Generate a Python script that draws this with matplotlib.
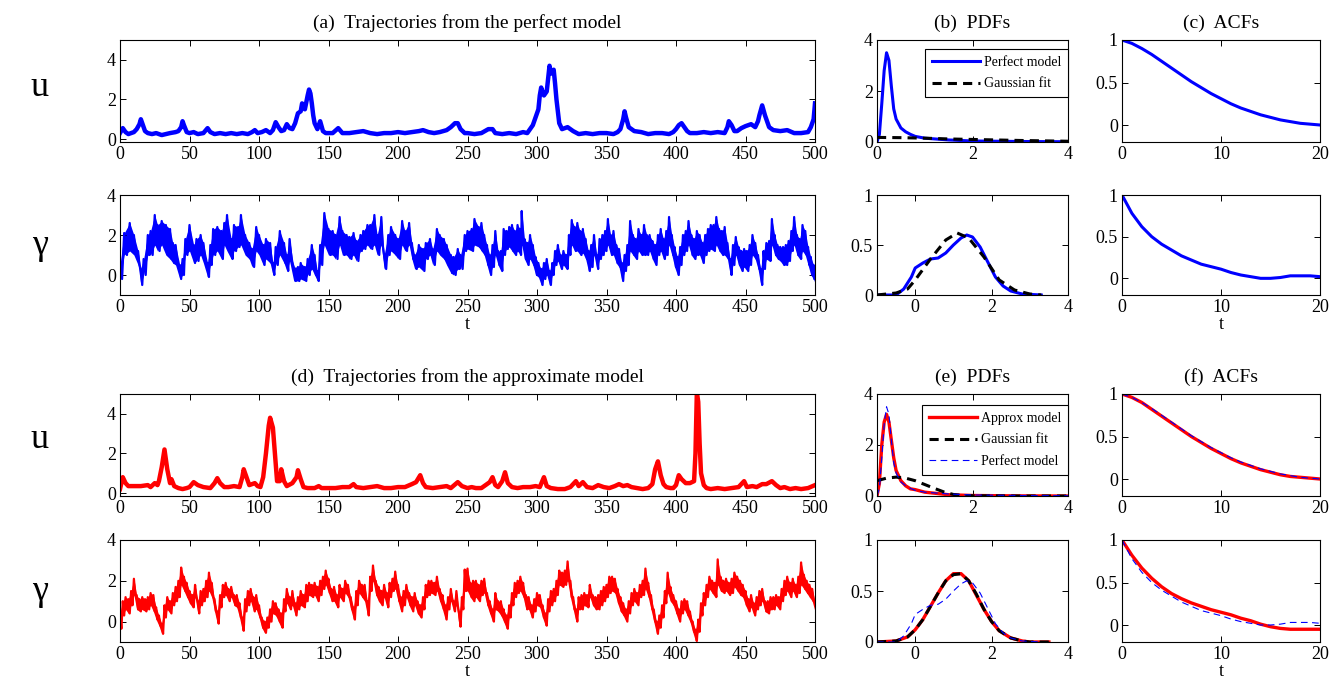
import matplotlib
matplotlib.use('Agg')
import matplotlib.pyplot as plt
import numpy as np

plt.rcParams['font.family'] = ['Liberation Serif', 'DejaVu Serif']

# ---------------- data ----------------
u_perfect = [(0,0.3),(2,0.55),(4,0.35),(6,0.25),(8,0.3),(10,0.35),(12,0.5),(14,0.75),(15,1.0),(16,0.8),(18,0.4),(20,0.3),
 (23,0.25),(26,0.3),(30,0.2),(33,0.25),(36,0.3),(40,0.35),(42,0.4),(44,0.6),(45,0.9),(46,0.7),(48,0.35),(50,0.3),(53,0.35),
 (56,0.25),(60,0.3),(63,0.55),(65,0.35),(68,0.25),(72,0.3),(76,0.25),(80,0.3),(84,0.25),(88,0.3),(92,0.25),(95,0.35),(97,0.45),
 (99,0.3),(102,0.35),(105,0.45),(108,0.3),(110,0.45),(112,0.85),(114,0.6),(116,0.4),(118,0.45),(120,0.75),(122,0.55),(124,0.5),
 (126,0.8),(128,1.3),(130,1.4),(131,1.8),(133,1.5),(135,2.2),(136,2.5),(137,2.3),(138,1.8),(139,1.2),(140,0.8),(142,0.5),(144,0.9),
 (146,0.4),(148,0.3),(150,0.3),(153,0.3),(157,0.55),(160,0.3),(165,0.3),(170,0.35),(175,0.4),(180,0.3),(185,0.25),(190,0.3),
 (195,0.3),(200,0.35),(205,0.3),(210,0.35),(215,0.4),(218,0.45),(222,0.35),(226,0.3),(230,0.35),(235,0.45),(238,0.6),(241,0.8),
 (243,0.8),(245,0.5),(248,0.3),(250,0.3),(255,0.25),(260,0.3),(265,0.5),(268,0.5),(270,0.3),(275,0.25),(280,0.3),(285,0.25),
 (290,0.35),(293,0.3),(295,0.5),(297,0.7),(298,0.9),(300,1.3),(301,1.5),(302,2.2),(303,2.6),(305,2.2),(307,2.4),(309,3.7),
 (310,3.3),(311,3.4),(312,3.5),(313,2.8),(314,2.0),(316,0.8),(318,0.5),(320,0.55),(322,0.6),(326,0.4),(330,0.25),(335,0.3),
 (340,0.25),(345,0.3),(350,0.3),(355,0.25),(358,0.35),(360,0.5),(362,1.0),(363,1.4),(364,1.1),(366,0.6),(370,0.4),(375,0.35),
 (380,0.25),(385,0.3),(390,0.3),(395,0.25),(398,0.35),(400,0.5),(402,0.7),(404,0.8),(406,0.6),(408,0.4),(410,0.3),(415,0.3),
 (420,0.35),(425,0.3),(430,0.35),(435,0.3),(437,0.6),(438,0.9),(440,0.7),(442,0.4),(444,0.4),(447,0.55),(450,0.65),(452,0.7),
 (454,0.75),(457,0.6),(459,0.9),(460,1.2),(462,1.7),(464,1.2),(467,0.6),(470,0.45),(475,0.4),(480,0.45),(485,0.3),(490,0.3),
 (495,0.35),(497,0.6),(499,1.0),(500,1.8)]

# gamma, perfect model: (t, lower edge of band, upper edge of band)
g_perfect = [(0,-0.2,0.5),(3,1.0,2.1),(7,1.2,2.6),(10,1.0,2.0),(13,0.5,1.2),(15,-0.5,0.3),(17,0.0,0.8),(20,1.0,2.0),(22,1.0,2.2),
 (25,1.5,3.0),(27,1.2,2.5),(30,1.5,2.7),(33,1.0,2.5),(36,0.8,2.3),(38,0.6,1.6),(40,0.5,1.5),(43,-0.2,0.5),(45,0.0,0.8),(47,1.0,1.8),
 (50,1.2,2.5),(53,0.6,1.5),(55,0.7,1.8),(58,1.0,2.0),(60,0.6,1.6),(63,-0.1,0.6),(65,0.5,1.5),(67,1.0,2.3),(70,1.2,2.4),(73,0.8,2.2),
 (75,1.5,2.6),(77,1.2,3.0),(80,0.8,1.8),(82,1.2,2.5),(85,1.4,2.4),(87,1.5,3.0),(90,1.0,2.0),(93,0.8,1.6),(95,0.4,1.3),(98,1.2,2.4),
 (100,1.0,2.0),(103,0.5,1.5),(105,0.8,1.8),(108,0.6,1.6),(110,0.0,0.6),(112,0.5,1.4),(115,1.0,2.2),(118,0.6,1.6),(120,0.2,1.0),
 (122,0.7,1.8),(125,-0.3,0.4),(128,-0.3,0.4),(130,-0.2,0.6),(133,-0.3,0.4),(135,0.0,0.8),(138,0.3,1.5),(140,0.0,1.0),(142,-0.3,0.2),
 (144,0.5,1.5),(147,1.5,3.1),(150,1.0,2.3),(153,1.0,2.2),(155,0.8,2.0),(158,1.5,2.9),(160,1.0,2.2),(163,1.0,2.0),(165,0.8,1.9),
 (168,1.0,2.1),(170,0.7,1.7),(173,1.2,2.0),(175,1.3,2.2),(178,1.5,2.5),(180,1.3,2.5),(183,1.5,3.0),(185,1.0,2.0),(188,1.5,2.9),
 (190,0.3,1.0),(193,1.0,2.0),(195,1.2,2.4),(198,1.0,2.0),(200,0.8,1.8),(203,1.5,2.7),(205,1.2,2.2),(208,1.5,2.6),(210,0.8,1.6),
 (212,0.3,1.0),(215,0.4,1.5),(218,0.2,1.3),(220,0.8,1.6),(223,1.0,1.8),(225,0.5,1.3),(228,1.2,2.3),(230,1.0,2.0),(233,0.8,1.8),
 (235,0.5,1.5),(238,0.1,1.0),(240,0.0,0.9),(243,0.3,1.3),(245,0.3,1.0),(248,1.2,2.0),(250,1.3,2.2),(253,1.2,2.3),(255,1.5,2.8),
 (258,1.4,2.4),(260,1.2,2.6),(262,1.0,2.0),(264,0.5,1.5),(266,0.0,1.0),(268,0.4,1.5),(270,1.0,2.2),(272,0.5,1.2),(274,0.2,1.2),
 (276,1.0,2.3),(278,1.3,2.2),(280,1.4,2.4),(282,1.2,2.5),(284,1.0,2.2),(286,1.2,2.5),(288,1.0,2.3),(289,1.5,3.2),(291,0.8,1.8),
 (293,0.5,1.6),(295,0.8,2.0),(297,0.5,1.5),(299,0.0,0.9),(301,-0.1,0.6),(303,-0.5,0.3),(305,-0.2,0.6),(307,0.0,0.8),(309,-0.5,0.2),
 (311,0.0,0.6),(313,0.5,1.2),(315,0.7,1.5),(317,0.3,1.0),(319,0.5,1.2),(321,0.3,1.0),(323,1.0,2.0),(325,1.5,2.75),(327,1.2,2.4),
 (329,1.2,2.6),(331,1.0,2.2),(333,1.1,2.3),(335,0.8,1.8),(337,0.2,1.2),(339,0.4,1.5),(341,1.0,2.0),(343,0.3,1.0),(345,0.8,1.8),
 (347,1.0,2.0),(349,1.2,2.2),(351,1.5,2.8),(353,1.0,2.0),(355,1.0,2.2),(357,0.6,1.5),(359,0.4,1.3),(361,-0.3,0.6),(363,0.2,1.0),
 (365,0.5,1.5),(367,1.2,2.7),(369,1.0,2.0),(371,0.8,1.8),(373,1.2,2.3),(375,1.0,2.0),(377,1.0,2.5),(379,1.0,2.0),(381,1.2,2.0),
 (383,0.8,1.7),(385,0.5,1.5),(387,1.0,2.0),(389,1.2,2.3),(391,0.8,1.8),(393,1.0,2.2),(395,1.5,2.9),(397,1.0,2.0),(399,0.4,1.4),
 (401,0.0,0.9),(403,0.5,1.4),(405,1.0,2.0),(407,1.2,2.2),(409,1.5,2.7),(411,1.0,2.0),(413,0.8,1.8),(415,1.0,2.2),(417,1.0,2.0),
 (419,0.6,1.6),(421,1.0,2.0),(423,1.2,2.3),(425,1.3,2.5),(427,1.2,2.5),(429,1.5,2.9),(431,1.2,2.3),(433,1.0,2.2),(435,1.0,2.4),
 (437,0.8,1.6),(439,0.0,0.8),(441,0.5,1.5),(443,1.0,1.9),(445,0.5,1.4),(447,0.2,1.2),(449,0.4,1.3),(451,0.2,1.2),(453,0.5,1.5),
 (455,1.0,2.0),(457,0.8,1.6),(459,0.3,1.0),(461,-0.5,0.3),(463,0.3,1.2),(465,0.8,1.6),(467,0.7,1.7),(469,1.5,2.8),(471,1.0,2.0),
 (473,0.8,1.5),(475,0.7,1.4),(477,0.5,1.4),(479,0.5,1.5),(481,0.7,1.7),(483,1.2,2.2),(485,1.5,2.9),(487,1.0,2.0),(489,0.8,1.8),
 (491,1.2,2.5),(493,1.0,2.2),(495,0.5,1.4),(497,0.0,0.9),(499,-0.2,0.5),(500,-0.4,-0.2)]

u_approx = [(0,0.2),(2,0.8),(4,0.5),(6,0.35),(10,0.35),(15,0.35),(20,0.4),(22,0.3),(25,0.5),(27,0.4),(28,0.6),(30,1.3),(32,2.2),
 (34,1.2),(36,0.5),(37,0.7),(39,0.35),(42,0.25),(45,0.2),(48,0.25),(50,0.3),(53,0.55),(56,0.4),(60,0.3),(65,0.25),(68,0.5),(70,0.75),
 (72,0.5),(75,0.3),(78,0.3),(82,0.35),(86,0.3),(88,0.8),(89,1.2),(91,0.8),(93,0.4),(95,0.45),(97,0.5),(99,0.35),(101,0.3),(103,0.8),
 (105,2.0),(107,3.4),(108,3.8),(110,3.3),(112,1.5),(113,0.6),(115,0.6),(116,1.2),(118,0.6),(120,0.35),(124,0.5),(127,0.8),(128,1.15),
 (130,0.7),(132,0.3),(135,0.25),(140,0.25),(143,0.35),(145,0.25),(150,0.25),(155,0.25),(160,0.3),(165,0.3),(168,0.45),(170,0.3),
 (175,0.25),(180,0.3),(185,0.35),(190,0.25),(195,0.25),(200,0.3),(205,0.3),(210,0.45),(213,0.55),(216,0.9),(218,0.5),(220,0.3),
 (225,0.25),(230,0.3),(235,0.35),(238,0.25),(243,0.55),(246,0.35),(250,0.25),(253,0.3),(256,0.25),(260,0.25),(263,0.4),(266,0.55),
 (268,0.8),(270,0.4),(272,0.3),(275,0.6),(277,1.05),(279,0.5),(282,0.3),(286,0.25),(290,0.3),(295,0.3),(299,0.35),(302,0.3),
 (305,0.8),(307,0.35),(310,0.25),(315,0.2),(320,0.2),(324,0.3),(328,0.6),(330,0.35),(333,0.55),(336,0.3),(340,0.25),(344,0.4),
 (348,0.3),(352,0.25),(356,0.35),(359,0.45),(362,0.35),(365,0.4),(368,0.3),(372,0.25),(376,0.2),(380,0.25),(383,0.45),(385,1.2),
 (387,1.6),(389,0.9),(391,0.45),(393,0.3),(396,0.25),(398,0.25),(400,0.4),(402,0.9),(404,0.7),(407,0.5),(410,0.5),(413,0.6),
 (414,2.0),(415,5.1),(416,4.6),(417,2.5),(418,1.0),(420,0.4),(422,0.25),(425,0.2),(430,0.25),(435,0.2),(440,0.25),(445,0.3),
 (449,0.6),(451,0.3),(455,0.35),(458,0.3),(462,0.45),(465,0.45),(469,0.6),(472,0.4),(475,0.25),(478,0.3),(482,0.2),(486,0.25),
 (490,0.2),(495,0.25),(500,0.4)]

# gamma, approximate model, sampled every 2 time units: lower / upper band edge
g_approx_t = list(range(0, 501, 2))
g_approx_lo = [-0.35,0.3,0.6,0.4,0.8,1.3,0.6,0.5,0.6,0.5,0.6,0.8,0.5,0.1,-0.2,-0.6,0.2,0.6,0.4,0.8,1.0,1.2,1.8,1.5,1.2,0.9,
 0.7,1.2,0.4,0.8,1.0,1.2,1.5,1.2,0.5,-0.1,0.7,1.2,1.3,1.0,1.2,0.8,0.7,0.2,-0.45,0.5,0.8,1.0,0.5,0.6,0.2,-0.3,-0.55,-0.3,0.0,
 0.4,0.3,0.0,-0.3,0.5,0.9,0.6,0.8,0.3,0.6,0.8,0.7,1.0,1.3,1.2,1.3,1.0,1.3,1.6,1.8,1.4,1.0,1.0,0.7,1.2,1.0,1.4,1.2,0.6,0.1,
 0.8,1.4,1.2,1.0,0.3,1.5,2.0,1.3,1.0,0.8,1.2,0.7,1.2,1.5,1.6,1.0,0.5,0.8,1.2,0.8,0.5,0.8,0.4,0.2,0.6,1.2,1.3,1.4,1.3,1.5,
 1.0,0.6,0.1,0.6,1.0,0.5,0.8,-0.25,0.6,1.5,1.5,1.2,1.0,1.2,1.0,1.3,1.4,0.8,0.4,0.0,0.6,0.5,0.3,0.0,-0.35,0.2,0.8,1.2,1.4,
 1.5,1.2,0.6,0.6,0.2,0.5,0.8,0.7,0.2,-0.2,0.5,0.8,1.0,1.3,1.8,1.7,1.8,2.0,1.2,0.6,0.0,0.6,0.6,0.8,0.7,1.2,0.8,0.6,0.6,0.8,
 1.0,1.2,1.4,1.5,1.4,0.9,0.5,0.3,0.0,0.4,0.8,1.0,0.8,1.2,1.3,1.6,1.2,0.6,0.0,-0.6,-0.3,0.2,0.9,1.4,1.0,0.8,0.4,0.0,0.4,0.6,
 0.3,0.0,-0.5,-0.95,-0.5,0.3,0.8,1.2,1.6,1.4,1.2,1.8,1.5,1.4,1.5,1.3,1.4,1.7,1.5,1.3,1.2,0.8,0.5,0.7,0.3,0.6,0.8,1.0,0.5,
 0.4,0.6,0.6,0.8,0.6,1.0,1.3,1.5,1.2,1.5,1.2,1.4,1.8,1.6,1.4,1.2,1.0,0.5]
g_approx_hi = [0.4,1.0,1.2,1.1,1.5,2.1,1.3,1.1,1.2,1.1,1.2,1.4,1.3,0.7,0.3,-0.1,0.8,1.2,1.0,1.4,1.7,2.0,2.65,2.2,1.9,1.5,
 1.3,1.8,1.0,1.5,1.6,2.0,2.4,1.9,1.1,0.5,1.3,1.8,1.9,1.6,1.7,1.3,1.3,0.9,0.2,1.1,1.5,1.6,1.2,1.3,0.8,0.2,0.0,0.2,0.6,
 1.0,0.9,0.6,0.4,1.1,1.6,1.2,1.5,0.9,1.2,1.5,1.3,1.8,1.9,1.8,1.9,1.7,2.0,2.2,2.5,2.1,1.6,1.7,1.3,1.8,1.6,2.0,1.8,1.2,0.7,
 1.5,2.0,1.8,1.8,1.0,2.2,2.75,2.0,1.7,1.5,1.8,1.4,1.9,2.1,2.45,1.8,1.2,1.5,1.8,1.4,1.2,1.4,1.0,0.8,1.2,1.8,2.0,2.0,1.9,2.2,
 1.6,1.3,0.8,1.2,1.6,1.0,1.5,0.4,1.2,2.55,2.6,1.9,2.0,2.0,1.8,2.0,2.1,1.4,1.0,0.6,1.4,1.0,1.0,0.6,0.3,0.8,1.4,1.9,2.0,
 2.2,1.9,1.3,1.2,0.8,1.1,1.4,1.3,0.8,0.4,1.1,1.5,1.6,2.0,2.5,2.4,2.5,2.95,2.0,1.2,0.6,1.2,1.3,1.4,1.3,1.8,1.3,1.2,1.3,1.5,
 1.7,1.8,2.2,2.2,2.1,1.6,1.2,0.9,0.6,1.0,1.4,1.6,1.4,1.8,2.0,2.6,1.9,1.3,0.6,0.0,0.3,0.8,1.5,2.4,1.7,1.3,1.0,0.6,1.0,1.1,
 1.0,0.5,0.0,-0.4,0.1,0.9,1.4,1.8,2.2,2.0,1.9,3.05,2.2,2.0,2.1,1.9,2.1,2.4,2.2,2.0,1.8,1.5,1.1,1.3,0.9,1.2,1.5,1.6,1.0,
 1.0,1.2,1.2,1.3,1.2,1.6,2.0,2.2,1.9,2.1,1.8,2.2,2.9,2.3,2.0,1.8,1.6,1.0]

# PDFs
pdf_u_x       = [0.0,0.05,0.1,0.15,0.2,0.25,0.3,0.35,0.4,0.5,0.6,0.7,0.8,1.0,1.5,2.0,3.0,4.0]
pdf_u_perfect = [0.0,0.3,1.5,2.8,3.5,3.2,2.2,1.3,0.9,0.55,0.4,0.3,0.22,0.15,0.08,0.04,0.02,0.01]
pdf_u_approx  = [0.0,0.5,2.0,2.9,3.2,2.9,2.2,1.5,1.0,0.6,0.4,0.28,0.25,0.15,0.05,0.02,0.005,0.0]
gfit_u_x       = [0.0,0.5,1.0,1.5,2.0,2.5,3.0,3.5,4.0]
gfit_u_perfect = [0.18,0.17,0.15,0.12,0.1,0.08,0.06,0.045,0.03]
gfit_u_approx_x = [0.0,0.2,0.4,0.6,0.8,1.0,1.2,1.4,1.6,1.8,2.0,3.0,4.0]
gfit_u_approx   = [0.6,0.7,0.74,0.7,0.6,0.45,0.3,0.16,0.06,0.02,0.01,0.0,0.0]

pdf_g_x       = [-1.0,-0.5,-0.3,-0.1,0.0,0.2,0.4,0.6,0.8,1.0,1.2,1.35,1.5,1.7,1.9,2.1,2.3,2.5,2.8,3.3]
pdf_g_perfect = [0.0,0.0,0.06,0.18,0.27,0.32,0.36,0.37,0.42,0.5,0.57,0.6,0.58,0.48,0.33,0.18,0.09,0.04,0.01,0.0]
gfit_g_x       = [-1.0,-0.5,-0.2,0.0,0.4,0.8,1.1,1.4,1.8,2.2,2.6,3.0,3.3]
gfit_g_perfect = [0.0,0.02,0.06,0.15,0.36,0.55,0.62,0.57,0.38,0.15,0.05,0.01,0.0]
pdf_g_ax      = [-1.0,-0.5,-0.2,0.0,0.2,0.4,0.6,0.8,1.0,1.2,1.4,1.6,1.8,2.0,2.2,2.5,2.8,3.0,3.5]
pdf_g_approx  = [0.0,0.01,0.05,0.12,0.22,0.35,0.48,0.6,0.67,0.67,0.6,0.46,0.32,0.2,0.11,0.04,0.01,0.0,0.0]
gfit_g_approx = [0.0,0.01,0.05,0.12,0.22,0.35,0.48,0.6,0.66,0.67,0.6,0.47,0.32,0.2,0.11,0.04,0.01,0.0,0.0]

# ACFs
acf_lag = [0,1,2,3,4,5,6,7,8,9,10,11,12,13,14,15,16,17,18,19,20]
acf_u_perfect = [1.0,0.96,0.9,0.83,0.75,0.67,0.59,0.51,0.44,0.37,0.31,0.25,0.2,0.16,0.12,0.09,0.06,0.04,0.02,0.01,0.0]
acf_u_approx  = [1.0,0.96,0.9,0.82,0.74,0.66,0.58,0.5,0.43,0.36,0.3,0.24,0.19,0.15,0.11,0.08,0.05,0.03,0.02,0.01,0.0]
acf_g_perfect = [1.0,0.78,0.62,0.5,0.41,0.34,0.27,0.22,0.17,0.14,0.11,0.07,0.04,0.02,0.0,0.0,0.01,0.03,0.03,0.03,0.02]
acf_g_approx  = [1.0,0.82,0.67,0.55,0.45,0.37,0.31,0.26,0.22,0.18,0.15,0.12,0.08,0.05,0.01,-0.02,-0.04,-0.05,-0.05,-0.05,-0.05]

titles = ['(a)  Trajectories from the perfect model', '(b)  PDFs', '(c)  ACFs',
          '(d)  Trajectories from the approximate model', '(e)  PDFs', '(f)  ACFs']

# ---------------- figure ----------------
W, H = 1344, 686
fig = plt.figure(figsize=(W/100, H/100), dpi=100)

def add_ax(x0, x1, y0, y1):
    return fig.add_axes([x0/W, 1 - y1/H, (x1-x0)/W, (y1-y0)/H])

cols = [(120, 815), (877, 1068), (1122, 1320)]
rows = [(40, 142), (195, 295), (394, 496), (540, 642)]

def style(ax):
    ax.tick_params(direction='in', top=True, right=True, length=4, width=0.7, labelsize=13, pad=3)
    for s in ax.spines.values():
        s.set_linewidth(0.8)

def band(ax, t, lo, hi, color):
    t = np.asarray(t, float); lo = np.asarray(lo, float); hi = np.asarray(hi, float)
    ax.fill_between(t, lo, hi, color=color, lw=0)
    mids = (t[:-1] + t[1:]) / 2
    xs = np.empty(2*len(t) - 1); ys = np.empty(2*len(t) - 1)
    xs[0::2] = t; ys[0::2] = hi
    xs[1::2] = mids; ys[1::2] = lo[:-1]
    ax.plot(xs, ys, color=color, lw=1.6)

axes = {}
for r in range(4):
    for c in range(3):
        ax = add_ax(cols[c][0], cols[c][1], rows[r][0], rows[r][1])
        style(ax)
        axes[(r, c)] = ax

blue = '#0000ff'
red = '#ff0000'

# trajectories
ax = axes[(0, 0)]
ax.plot([d[0] for d in u_perfect], [d[1] for d in u_perfect], color=blue, lw=3.2)
ax.set_ylim(-0.15, 5); ax.set_yticks([0, 2, 4])
ax = axes[(1, 0)]
band(ax, [d[0] for d in g_perfect], [d[1] for d in g_perfect], [d[2] for d in g_perfect], blue)
ax.set_ylim(-1, 4); ax.set_yticks([0, 2, 4])
ax.set_xlabel('t', fontsize=13, labelpad=0)
ax = axes[(2, 0)]
ax.plot([d[0] for d in u_approx], [d[1] for d in u_approx], color=red, lw=3.2)
ax.set_ylim(-0.15, 5); ax.set_yticks([0, 2, 4])
ax = axes[(3, 0)]
band(ax, g_approx_t, g_approx_lo, g_approx_hi, red)
ax.set_ylim(-1, 4); ax.set_yticks([0, 2, 4])
ax.set_xlabel('t', fontsize=13, labelpad=0)
for r in range(4):
    axes[(r, 0)].set_xlim(0, 500)
    axes[(r, 0)].set_xticks(range(0, 501, 50))

# PDFs
ax = axes[(0, 1)]
ax.plot(pdf_u_x, pdf_u_perfect, color=blue, lw=2.2, label='Perfect model')
ax.plot(gfit_u_x, gfit_u_perfect, color='k', lw=2.2, ls=(0, (3, 2)), label='Gaussian fit')
ax.set_xlim(0, 4); ax.set_ylim(0, 4); ax.set_xticks([0, 2, 4]); ax.set_yticks([0, 2, 4])
leg = ax.legend(loc='upper right', bbox_to_anchor=(1.0, 0.91), borderaxespad=0, fontsize=10,
                handlelength=3.4, fancybox=False, framealpha=1, edgecolor='k', borderpad=0.5, labelspacing=0.6,
                handletextpad=0.3)
leg.get_frame().set_linewidth(0.8)

ax = axes[(1, 1)]
ax.plot(pdf_g_x, pdf_g_perfect, color=blue, lw=2.2)
ax.plot(gfit_g_x, gfit_g_perfect, color='k', lw=2.2, ls=(0, (3, 2)))
ax.set_xlim(-1, 4); ax.set_ylim(0, 1); ax.set_xticks([0, 2, 4]); ax.set_yticks([0, 0.5, 1])
ax.set_yticklabels(['0', '0.5', '1'])

ax = axes[(2, 1)]
ax.plot(pdf_u_x, pdf_u_approx, color=red, lw=2.4, label='Approx model')
ax.plot(gfit_u_approx_x, gfit_u_approx, color='k', lw=2.2, ls=(0, (3, 2)), label='Gaussian fit')
ax.plot(pdf_u_x, pdf_u_perfect, color=blue, lw=0.8, ls=(0, (6, 4)), label='Perfect model')
ax.set_xlim(0, 4); ax.set_ylim(0, 4); ax.set_xticks([0, 2, 4]); ax.set_yticks([0, 2, 4])
leg = ax.legend(loc='upper right', bbox_to_anchor=(1.0, 0.89), borderaxespad=0, fontsize=10,
                handlelength=3.4, fancybox=False, framealpha=1, edgecolor='k', borderpad=0.5, labelspacing=0.6,
                handletextpad=0.3)
leg.get_frame().set_linewidth(0.8)

ax = axes[(3, 1)]
ax.plot(pdf_g_ax, pdf_g_approx, color=red, lw=2.4)
ax.plot(pdf_g_ax, gfit_g_approx, color='k', lw=2.2, ls=(0, (3, 2)))
ax.plot(pdf_g_x, pdf_g_perfect, color=blue, lw=0.8, ls=(0, (6, 4)))
ax.set_xlim(-1, 4); ax.set_ylim(0, 1); ax.set_xticks([0, 2, 4]); ax.set_yticks([0, 0.5, 1])
ax.set_yticklabels(['0', '0.5', '1'])

# ACFs
ax = axes[(0, 2)]
ax.plot(acf_lag, acf_u_perfect, color=blue, lw=2.2)
ax = axes[(1, 2)]
ax.plot(acf_lag, acf_g_perfect, color=blue, lw=2.2)
ax.set_xlabel('t', fontsize=13, labelpad=0)
ax = axes[(2, 2)]
ax.plot(acf_lag, acf_u_approx, color=red, lw=2.4)
ax.plot(acf_lag, acf_u_perfect, color=blue, lw=0.8, ls=(0, (6, 4)))
ax = axes[(3, 2)]
ax.plot(acf_lag, acf_g_approx, color=red, lw=2.4)
ax.plot(acf_lag, acf_g_perfect, color=blue, lw=0.8, ls=(0, (6, 4)))
ax.set_xlabel('t', fontsize=13, labelpad=0)
for r in range(4):
    a = axes[(r, 2)]
    a.set_xlim(0, 20); a.set_ylim(-0.2, 1)
    a.set_xticks([0, 10, 20]); a.set_yticks([0, 0.5, 1]); a.set_yticklabels(['0', '0.5', '1'])

# titles
for (r, c), ttl in zip([(0, 0), (0, 1), (0, 2), (2, 0), (2, 1), (2, 2)], titles):
    axes[(r, c)].set_title(ttl, fontsize=14, pad=9)

# row labels
for y, lab in zip([88, 245, 440, 592], ['u', 'γ', 'u', 'γ']):
    fig.text(40/W, 1 - y/H, lab, fontsize=26, ha='center', va='center')

fig.savefig('out.png', dpi=100)
